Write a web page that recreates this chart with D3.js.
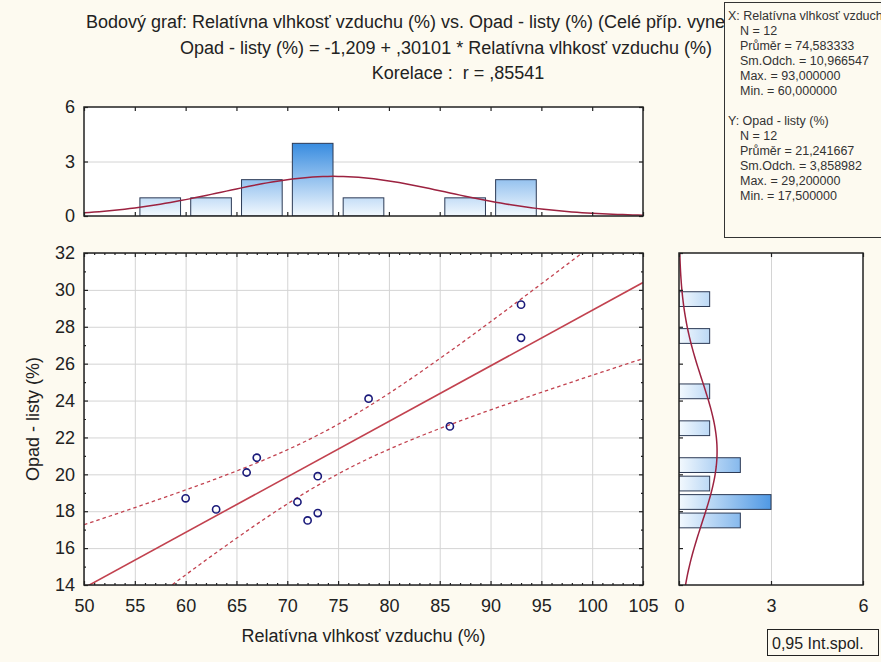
<!DOCTYPE html>
<html>
<head>
<meta charset="utf-8">
<script src="https://cdn.jsdelivr.net/npm/d3@7/dist/d3.min.js"></script>
<style>
  html, body { margin: 0; padding: 0; background: #fdfaf0; overflow: hidden; }
  svg { display: block; font-family: "Liberation Sans", Arial, sans-serif; }
  text { white-space: pre; }
</style>
</head>
<body>
<svg id="chart" width="881" height="662"></svg>
<script>
// Relative air humidity (%) vs. leaf litter (%), 12 cases
const humidity = [60, 63, 66, 67, 71, 72, 73, 73, 78, 86, 93, 93];
const litter   = [18.7, 18.1, 20.1, 20.9, 18.5, 17.5, 17.9, 19.9, 24.1, 22.6, 29.2, 27.4];

// fitted line as printed in the heading
const intercept = -1.209;
const slope = 0.30101;

// histogram bins: lower bin edges and counts
const xBinLow    = [55, 60, 65, 70, 75, 80, 85, 90];
const xBinCounts = [1, 1, 2, 4, 1, 0, 1, 2];
const yBinLow    = [17, 18, 19, 20, 22, 24, 27, 29];
const yBinCounts = [2, 3, 1, 2, 1, 1, 1, 1];

const xTicks = [50, 55, 60, 65, 70, 75, 80, 85, 90, 95, 100, 105];
const yTicks = [14, 16, 18, 20, 22, 24, 26, 28, 30, 32];
const countTicks = [0, 3, 6];

const titleLines = [
  "Bodový graf: Relatívna vlhkosť vzduchu (%) vs. Opad - listy (%) (Celé příp. vynech. ChD)",
  "Opad - listy (%) = -1,209 + ,30101 * Relatívna vlhkosť vzduchu (%)",
  "Korelace :  r = ,85541"
];
const statsX = ["X: Relatívna vlhkosť vzduchu (%)", "N = 12", "Průměr = 74,583333", "Sm.Odch. = 10,966547", "Max. = 93,000000", "Min. = 60,000000"];
const statsY = ["Y: Opad - listy (%)", "N = 12", "Průměr = 21,241667", "Sm.Odch. = 3,858982", "Max. = 29,200000", "Min. = 17,500000"];
const xLabel = "Relatívna vlhkosť vzduchu (%)";
const yLabel = "Opad - listy (%)";
const legendLabel = "0,95 Int.spol.";

const BG = "#fdfaf0";
const RED = "#c2424f";
const CURVE = "#9c2240";
const FRAME = "#222";
const GRID = "#d4d4d4";
const TXT = "#222";

const svg = d3.select("#chart");
svg.append("rect").attr("width", 881).attr("height", 662).attr("fill", BG);

// panels
const mainP = {l: 84, r: 643, t: 253, b: 585};
const topP = {l: 84, r: 643, t: 107, b: 216};
const sideP = {l: 679, r: 863, t: 253, b: 585};

const x = d3.scaleLinear().domain([50, 105]).range([mainP.l, mainP.r]);
const y = d3.scaleLinear().domain([14, 32]).range([mainP.b, mainP.t]);
const cTop = d3.scaleLinear().domain([0, 6]).range([topP.b, topP.t]);
const cSide = d3.scaleLinear().domain([0, 6]).range([sideP.l, sideP.r]);
const intFmt = d3.format("d");

const defs = svg.append("defs");
function clip(id, p) {
  defs.append("clipPath").attr("id", id).append("rect")
    .attr("x", p.l).attr("y", p.t).attr("width", p.r - p.l).attr("height", p.b - p.t);
}
clip("clipMain", mainP); clip("clipTop", topP); clip("clipSide", sideP);
clip("clipTitle", {l: 0, r: 724, t: 0, b: 100});

const gTop = defs.append("linearGradient").attr("id", "gradTop")
  .attr("gradientUnits", "userSpaceOnUse")
  .attr("x1", 0).attr("x2", 0).attr("y1", cTop(0)).attr("y2", cTop(4.1));
gTop.append("stop").attr("offset", 0).attr("stop-color", "#f3f9fe");
gTop.append("stop").attr("offset", 1).attr("stop-color", "#3389df");
const gSide = defs.append("linearGradient").attr("id", "gradSide")
  .attr("gradientUnits", "userSpaceOnUse")
  .attr("y1", 0).attr("y2", 0).attr("x1", cSide(0)).attr("x2", cSide(3.3));
gSide.append("stop").attr("offset", 0).attr("stop-color", "#f3f9fe");
gSide.append("stop").attr("offset", 1).attr("stop-color", "#3f8fe2");

function panelBg(p) {
  svg.append("rect").attr("x", p.l).attr("y", p.t).attr("width", p.r - p.l).attr("height", p.b - p.t)
    .attr("fill", "#fff");
}
function panelFrame(p) {
  svg.append("rect").attr("x", p.l).attr("y", p.t).attr("width", p.r - p.l).attr("height", p.b - p.t)
    .attr("fill", "none").attr("stroke", FRAME).attr("stroke-width", 1.5);
}
function styleAxis(g) {
  g.select(".domain").remove();
  g.selectAll(".tick line").attr("stroke", FRAME).attr("stroke-width", 1.2);
  g.selectAll("text").attr("fill", TXT).attr("font-size", 18);
}
function gridStyle(g) {
  g.select(".domain").remove();
  g.selectAll("text").remove();
  g.selectAll(".tick line").attr("stroke", GRID).attr("stroke-width", 1);
}
function bottomLabels(g) {
  g.selectAll("text").attr("y", 27).attr("dy", null);
}

// ---------- title ----------
svg.append("g").attr("clip-path", "url(#clipTitle)")
  .append("text").attr("x", 86).attr("y", 28).attr("font-size", 18).attr("fill", TXT).text(titleLines[0]);
svg.append("text").attr("x", 180).attr("y", 54).attr("font-size", 18).attr("fill", TXT).text(titleLines[1]);
svg.append("text").attr("x", 458).attr("y", 79).attr("text-anchor", "middle").attr("font-size", 18)
  .attr("fill", TXT).text(titleLines[2]);

// ---------- main scatter ----------
panelBg(mainP);
svg.append("g").attr("transform", `translate(0,${mainP.b})`)
  .call(d3.axisBottom(x).tickValues(xTicks).tickSize(-(mainP.b - mainP.t))).call(gridStyle);
svg.append("g").attr("transform", `translate(${mainP.l},0)`)
  .call(d3.axisLeft(y).tickValues(yTicks).tickSize(-(mainP.r - mainP.l))).call(gridStyle);

const minorX = d3.range(50, 106, 1).filter(v => v % 5 !== 0);
const minorY = d3.range(14, 32.01, 1).filter(v => v % 2 !== 0);

const gm = svg.append("g").attr("clip-path", "url(#clipMain)");
const line = d3.line().x(d => x(d[0])).y(d => y(d[1]));

// 95% confidence band around the fitted line
const n = humidity.length;
const mx = d3.mean(humidity);
const sxx = d3.sum(humidity, v => (v - mx) * (v - mx));
const sse = d3.sum(humidity, (v, i) => {
  const r = litter[i] - (intercept + slope * v);
  return r * r;
});
const se = Math.sqrt(sse / (n - 2));
const tCrit = 2.228;
const xs = d3.range(50, 105.01, 0.5);
const band = sgn => xs.map(v => [v, intercept + slope * v + sgn * tCrit * se * Math.sqrt(1 / n + (v - mx) * (v - mx) / sxx)]);

gm.append("path").attr("d", line(band(1))).attr("fill", "none").attr("stroke", RED)
  .attr("stroke-width", 1.3).attr("stroke-dasharray", "3.5,3");
gm.append("path").attr("d", line(band(-1))).attr("fill", "none").attr("stroke", RED)
  .attr("stroke-width", 1.3).attr("stroke-dasharray", "3.5,3");
gm.append("path").attr("d", line([[50, intercept + slope * 50], [105, intercept + slope * 105]]))
  .attr("fill", "none").attr("stroke", RED).attr("stroke-width", 1.6);

gm.selectAll("circle").data(humidity).join("circle")
  .attr("cx", d => x(d)).attr("cy", (d, i) => y(litter[i])).attr("r", 3.6)
  .attr("fill", "none").attr("stroke", "#1a1a7a").attr("stroke-width", 1.6);

// axes with inward ticks
svg.append("g").attr("transform", `translate(0,${mainP.b})`)
  .call(d3.axisBottom(x).tickValues(xTicks).tickSize(-4)).call(styleAxis).call(bottomLabels);
svg.append("g").attr("transform", `translate(0,${mainP.t})`)
  .call(d3.axisTop(x).tickValues(xTicks).tickSize(-4).tickFormat("")).call(styleAxis);
svg.append("g").attr("transform", `translate(0,${mainP.b})`)
  .call(d3.axisBottom(x).tickValues(minorX).tickSize(-2).tickFormat("")).call(styleAxis);
svg.append("g").attr("transform", `translate(0,${mainP.t})`)
  .call(d3.axisTop(x).tickValues(minorX).tickSize(-2).tickFormat("")).call(styleAxis);
svg.append("g").attr("transform", `translate(${mainP.l},0)`)
  .call(d3.axisLeft(y).tickValues(yTicks).tickSize(-4).tickPadding(9)).call(styleAxis);
svg.append("g").attr("transform", `translate(${mainP.r},0)`)
  .call(d3.axisRight(y).tickValues(yTicks).tickSize(-4).tickFormat("")).call(styleAxis);
svg.append("g").attr("transform", `translate(${mainP.l},0)`)
  .call(d3.axisLeft(y).tickValues(minorY).tickSize(-2).tickFormat("")).call(styleAxis);
svg.append("g").attr("transform", `translate(${mainP.r},0)`)
  .call(d3.axisRight(y).tickValues(minorY).tickSize(-2).tickFormat("")).call(styleAxis);
panelFrame(mainP);

// ---------- top histogram (X) ----------
panelBg(topP);
svg.append("g").attr("transform", `translate(${topP.l},0)`)
  .call(d3.axisLeft(cTop).tickValues([3]).tickSize(-(topP.r - topP.l))).call(gridStyle);
const gt = svg.append("g").attr("clip-path", "url(#clipTop)");
gt.selectAll("rect").data(xBinCounts.map((c, i) => ({c, lo: xBinLow[i]})).filter(d => d.c > 0))
  .join("rect")
  .attr("x", d => x(d.lo + 0.5)).attr("width", d => x(d.lo + 4.5) - x(d.lo + 0.5))
  .attr("y", d => cTop(d.c)).attr("height", d => cTop(0) - cTop(d.c))
  .attr("fill", "url(#gradTop)").attr("stroke", "#2c3a55").attr("stroke-width", 1);
const sdX = d3.deviation(humidity);
const normTop = d3.range(50, 105.01, 0.5).map(v =>
  [v, n * 5 * Math.exp(-0.5 * ((v - mx) / sdX) ** 2) / (sdX * Math.sqrt(2 * Math.PI))]);
gt.append("path").attr("d", d3.line().x(d => x(d[0])).y(d => cTop(d[1]))(normTop))
  .attr("fill", "none").attr("stroke", CURVE).attr("stroke-width", 1.5);
svg.append("g").attr("transform", `translate(${topP.l},0)`)
  .call(d3.axisLeft(cTop).tickValues(countTicks).tickFormat(intFmt).tickSize(-4).tickPadding(9)).call(styleAxis);
svg.append("g").attr("transform", `translate(${topP.r},0)`)
  .call(d3.axisRight(cTop).tickValues(countTicks).tickSize(-4).tickFormat("")).call(styleAxis);
svg.append("g").attr("transform", `translate(0,${topP.t})`)
  .call(d3.axisTop(x).tickValues(xTicks).tickSize(-4).tickFormat("")).call(styleAxis);
svg.append("g").attr("transform", `translate(0,${topP.b})`)
  .call(d3.axisBottom(x).tickValues(xTicks).tickSize(-4).tickFormat("")).call(styleAxis);
panelFrame(topP);

// ---------- side histogram (Y) ----------
panelBg(sideP);
svg.append("g").attr("transform", `translate(0,${sideP.b})`)
  .call(d3.axisBottom(cSide).tickValues([3]).tickSize(-(sideP.b - sideP.t))).call(gridStyle);
const gs = svg.append("g").attr("clip-path", "url(#clipSide)");
gs.selectAll("rect").data(yBinCounts.map((c, i) => ({c, lo: yBinLow[i]})).filter(d => d.c > 0))
  .join("rect")
  .attr("y", d => y(d.lo + 0.9)).attr("height", d => y(d.lo + 0.1) - y(d.lo + 0.9))
  .attr("x", cSide(0)).attr("width", d => cSide(d.c) - cSide(0))
  .attr("fill", "url(#gradSide)").attr("stroke", "#2c3a55").attr("stroke-width", 1);
const my = d3.mean(litter);
const sdY = d3.deviation(litter);
const normSide = d3.range(14, 32.01, 0.2).map(v =>
  [v, n * 1 * Math.exp(-0.5 * ((v - my) / sdY) ** 2) / (sdY * Math.sqrt(2 * Math.PI))]);
gs.append("path").attr("d", d3.line().x(d => cSide(d[1])).y(d => y(d[0]))(normSide))
  .attr("fill", "none").attr("stroke", CURVE).attr("stroke-width", 1.5);
svg.append("g").attr("transform", `translate(0,${sideP.b})`)
  .call(d3.axisBottom(cSide).tickValues(countTicks).tickFormat(intFmt).tickSize(-4)).call(styleAxis).call(bottomLabels);
svg.append("g").attr("transform", `translate(0,${sideP.t})`)
  .call(d3.axisTop(cSide).tickValues(countTicks).tickSize(-4).tickFormat("")).call(styleAxis);
svg.append("g").attr("transform", `translate(${sideP.l},0)`)
  .call(d3.axisLeft(y).tickValues(yTicks).tickSize(-4).tickFormat("")).call(styleAxis);
panelFrame(sideP);

// ---------- axis titles ----------
svg.append("text").attr("x", (mainP.l + mainP.r) / 2).attr("y", 642).attr("text-anchor", "middle")
  .attr("font-size", 18).attr("fill", TXT).text(xLabel);
svg.append("text").attr("transform", `translate(39,${(mainP.t + mainP.b) / 2}) rotate(-90)`)
  .attr("text-anchor", "middle").attr("font-size", 18).attr("fill", TXT).text(yLabel);

// ---------- statistics box ----------
const box = svg.append("g");
box.append("rect").attr("x", 724.5).attr("y", 2.5).attr("width", 170).attr("height", 235)
  .attr("fill", BG).attr("stroke", "#333").attr("stroke-width", 1);
const lineStep = 15;
statsX.forEach((t, i) => {
  box.append("text").attr("x", i === 0 ? 728 : 740).attr("y", 20 + i * lineStep)
    .attr("font-size", 12.5).attr("fill", "#333").text(t);
});
statsY.forEach((t, i) => {
  box.append("text").attr("x", i === 0 ? 728 : 740).attr("y", 20 + (i + 7) * lineStep)
    .attr("font-size", 12.5).attr("fill", "#333").text(t);
});

// ---------- legend ----------
svg.append("rect").attr("x", 767.5).attr("y", 629.5).attr("width", 111).attr("height", 26)
  .attr("fill", BG).attr("stroke", "#222").attr("stroke-width", 1);
svg.append("text").attr("x", 772).attr("y", 649).attr("font-size", 16).attr("fill", TXT).text(legendLabel);
</script>
</body>
</html>
